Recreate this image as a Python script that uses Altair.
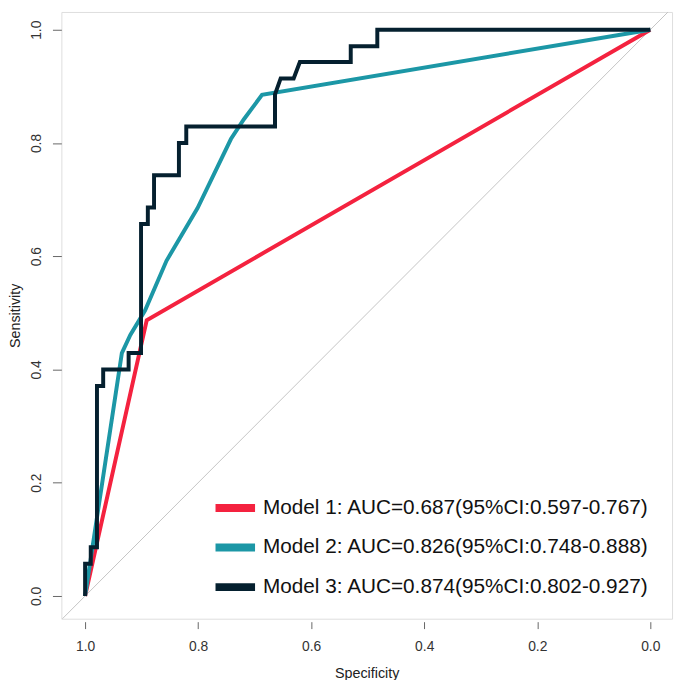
import altair as alt
import pandas as pd

FONT = "Liberation Sans"

model_names = [
    "Model 1: AUC=0.687(95%CI:0.597-0.767)",
    "Model 2: AUC=0.826(95%CI:0.748-0.888)",
    "Model 3: AUC=0.874(95%CI:0.802-0.927)",
]
model_colors = ["#F4223F", "#1C97A6", "#05202F"]

# Model 1 (specificity, sensitivity)
m1_spec = [1.0, 0.891, 0.0]
m1_sens = [0.0, 0.487, 1.0]

# Model 2
m2_spec = [1.0, 0.935, 0.920, 0.894, 0.856, 0.801, 0.742, 0.719, 0.687, 0.0]
m2_sens = [0.0, 0.429, 0.461, 0.504, 0.592, 0.685, 0.807, 0.842, 0.885, 1.0]

# Model 3 (step ROC curve, 35 positives)
m3_spec = [1.0, 1.0, 0.990, 0.990, 0.979, 0.979, 0.968, 0.968, 0.923, 0.923,
           0.901, 0.901, 0.889, 0.889, 0.878, 0.878, 0.834, 0.834, 0.821, 0.821,
           0.664, 0.664, 0.654, 0.631, 0.620, 0.530, 0.530, 0.483, 0.483, 0.0]
m3_sens = [0.0, 0.057, 0.057, 0.086, 0.086, 0.371, 0.371, 0.400, 0.400, 0.429,
           0.429, 0.657, 0.657, 0.686, 0.686, 0.743, 0.743, 0.800, 0.800, 0.829,
           0.829, 0.886, 0.914, 0.914, 0.943, 0.943, 0.971, 0.971, 1.0, 1.0]

# reference diagonal
diag_spec = [1.1, -0.1]
diag_sens = [-0.1, 1.1]

tick_values = [0.0, 0.2, 0.4, 0.6, 0.8, 1.0]

rows = []
for name, sp, se in zip(model_names, [m1_spec, m2_spec, m3_spec], [m1_sens, m2_sens, m3_sens]):
    for i, (a, b) in enumerate(zip(sp, se)):
        rows.append({"model": name, "spec": a, "sens": b, "idx": i})
curves = pd.DataFrame(rows)
diag = pd.DataFrame({"spec": diag_spec, "sens": diag_sens, "idx": [0, 1]})

xscale = alt.Scale(domain=[-0.0385, 1.042], reverse=True, nice=False, zero=False)
yscale = alt.Scale(domain=[-0.0401, 1.0314], nice=False, zero=False)

xaxis = alt.Axis(values=tick_values, format=".1f", title="Specificity", grid=False, domain=False,
                 tickSize=7, offset=3, tickColor="#666", labelFontSize=14, labelColor="#333",
                 labelPadding=11, labelFont=FONT, titleFont=FONT, titleFontSize=14.5,
                 titleFontWeight="normal", titleColor="#222", titlePadding=13)
yaxis = alt.Axis(values=tick_values, format=".1f", title="Sensitivity", grid=False, domain=False,
                 tickSize=9, tickColor="#666", labelFontSize=14, labelColor="#333",
                 labelAngle=270, labelAlign="center", labelBaseline="bottom", labelPadding=9,
                 labelFont=FONT, titleFont=FONT, titleFontSize=14.5, titleFontWeight="normal",
                 titleColor="#222", titleAngle=270, titleBaseline="bottom", titleX=-39)

diag_layer = alt.Chart(diag).mark_line(color="#C4C4C4", strokeWidth=1, clip=True).encode(
    x=alt.X("spec:Q", scale=xscale, axis=xaxis),
    y=alt.Y("sens:Q", scale=yscale, axis=yaxis),
    order="idx:Q",
)

curve_layer = alt.Chart(curves).mark_line(strokeWidth=4, clip=True).encode(
    x=alt.X("spec:Q", scale=xscale, axis=xaxis),
    y=alt.Y("sens:Q", scale=yscale, axis=yaxis),
    order="idx:Q",
    color=alt.Color("model:N", scale=alt.Scale(domain=model_names, range=model_colors),
                    legend=alt.Legend(title=None, orient="none", legendX=152, legendY=478,
                                      symbolType="stroke", symbolSize=1600, symbolStrokeWidth=8,
                                      labelFontSize=21, labelFont=FONT, labelColor="#111",
                                      labelOffset=4, labelLimit=0, rowPadding=0, padding=0)),
)

chart = alt.layer(diag_layer, curve_layer).properties(
    width=618, height=614,
    autosize=alt.AutoSizeParams(type="none"),
    padding={"left": 54, "top": 0, "right": 5, "bottom": 58},
).configure_view(stroke="#555", strokeWidth=1.3).configure(background="white")

chart.save("out.html", embed_options={"renderer": "svg", "actions": False})
